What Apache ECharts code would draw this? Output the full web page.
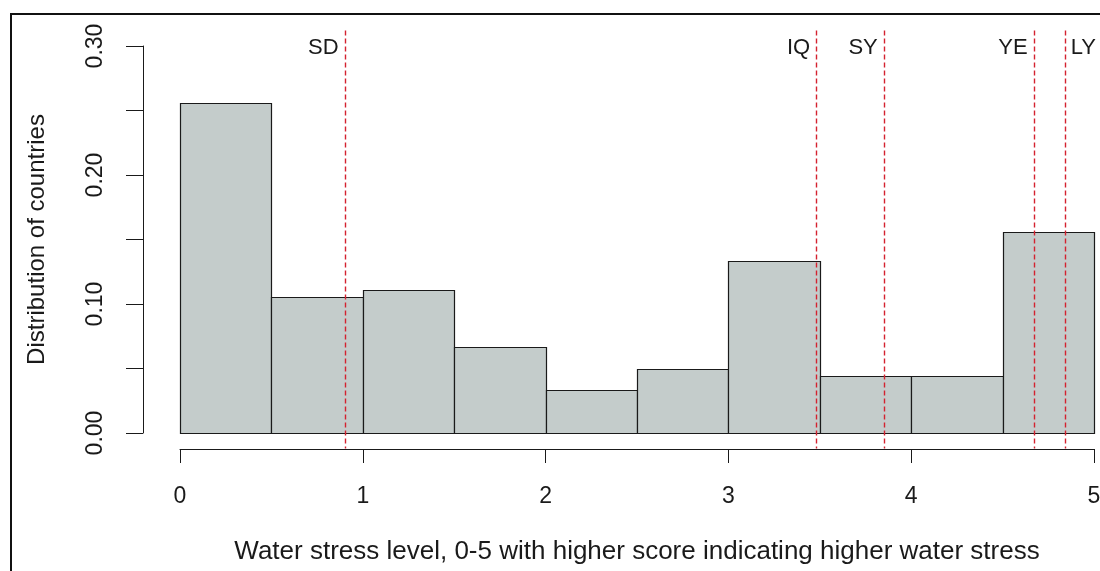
<!DOCTYPE html>
<html>
<head>
<meta charset="utf-8">
<script src="https://cdn.jsdelivr.net/npm/echarts@6/dist/echarts.min.js"></script>
<style>
html,body{margin:0;padding:0;background:#fff;}
#chart{width:1100px;height:571px;}
</style>
</head>
<body>
<div id="chart"></div>
<script>
// ---- data ----
const binStarts = [0, 0.5, 1, 1.5, 2, 2.5, 3, 3.5, 4, 4.5];
const binEnds   = [0.5, 1, 1.5, 2, 2.5, 3, 3.5, 4, 4.5, 5];
const shares    = [0.2556, 0.1056, 0.1111, 0.0667, 0.0333, 0.0500, 0.1333, 0.0444, 0.0444, 0.1556];
const countryCodes  = ['SD', 'IQ', 'SY', 'YE', 'LY'];
const countryScores = [0.90, 3.48, 3.85, 4.67, 4.84];
const labelSides    = ['left', 'left', 'left', 'left', 'right'];
const yLabelValues  = [0, 0.10, 0.20, 0.30];
const xTitle = 'Water stress level, 0-5 with higher score indicating higher water stress';
const yTitle = 'Distribution of countries';

const X_MIN = 0, X_MAX = 5, Y_MIN = 0, Y_MAX = 0.30;
const Y_PAD = (Y_MAX - Y_MIN) * 0.04;  // R plot-region extension

const FONT = '"Liberation Sans", Arial, sans-serif';
const INK = '#1a1a1a';

const barData = binStarts.map((s, i) => [s, binEnds[i], shares[i]]);
const lineData = countryScores.map((x) => [x]);
const labelData = countryScores.map((x, i) => [x, Y_MAX, countryCodes[i], labelSides[i]]);

const chart = echarts.init(document.getElementById('chart'));
const crisp = (v) => Math.round(v) + 0.5;

chart.setOption({
  backgroundColor: '#ffffff',
  animation: false,
  grid: { left: 180, right: 6, top: 46, bottom: 138, containLabel: false, outerBoundsMode: 'none' },
  xAxis: {
    type: 'value', min: X_MIN, max: X_MAX, interval: 1,
    offset: 16,
    axisLine: { show: true, onZero: false, lineStyle: { color: INK, width: 1 } },
    axisTick: { show: true, inside: false, length: 14, lineStyle: { color: INK, width: 1 } },
    axisLabel: { show: true, margin: 36, fontSize: 23, fontFamily: FONT, color: INK },
    splitLine: { show: false },
    name: xTitle, nameLocation: 'middle', nameGap: 90,
    nameTextStyle: { fontSize: 26, fontFamily: FONT, color: INK }
  },
  yAxis: {
    type: 'value', min: Y_MIN, max: Y_MAX, interval: 0.05,
    offset: 37,
    axisLine: { show: true, onZero: false, lineStyle: { color: INK, width: 1 } },
    axisTick: { show: true, inside: false, length: 17, lineStyle: { color: INK, width: 1 } },
    axisLabel: {
      show: true, rotate: 90, margin: 36, fontSize: 23, fontFamily: FONT, color: INK,
      formatter: (v) => yLabelValues.some((t) => Math.abs(t - v) < 1e-9) ? v.toFixed(2) : ''
    },
    splitLine: { show: false },
    name: yTitle, nameLocation: 'middle', nameGap: 94, nameRotate: 90,
    nameTextStyle: { fontSize: 24, fontFamily: FONT, color: INK }
  },
  graphic: [{
    type: 'rect', silent: true, z: 100,
    shape: { x: 11, y: 14, width: 1300, height: 800 },
    style: { fill: 'none', stroke: '#111', lineWidth: 2 }
  }],
  series: [
    {
      type: 'custom', name: 'hist', data: barData, encode: { x: [0, 1], y: 2 },
      renderItem: (params, api) => {
        const p0 = api.coord([api.value(0), api.value(2)]);
        const p1 = api.coord([api.value(1), 0]);
        const x0 = crisp(p0[0]), x1 = crisp(p1[0]), y0 = crisp(p0[1]), y1 = crisp(p1[1]);
        return {
          type: 'rect',
          shape: { x: x0, y: y0, width: x1 - x0, height: y1 - y0 },
          style: { fill: '#c4cccb', stroke: INK, lineWidth: 1.2 }
        };
      },
      z: 2
    },
    {
      type: 'custom', name: 'countries', data: lineData, encode: { x: 0 }, clip: false,
      renderItem: (params, api) => {
        const top = api.coord([api.value(0), Y_MAX + Y_PAD]);
        const bot = api.coord([api.value(0), Y_MIN - Y_PAD]);
        const x = crisp(top[0]);
        return {
          type: 'line',
          shape: { x1: x, y1: top[1], x2: x, y2: bot[1] },
          style: { stroke: '#d42230', lineWidth: 1.4, lineDash: [5, 3] }
        };
      },
      z: 3
    },
    {
      type: 'custom', name: 'codes', data: labelData, encode: { x: 0, y: 1 }, clip: false,
      renderItem: (params, api) => {
        const p = api.coord([api.value(0), api.value(1)]);
        const side = labelData[params.dataIndex][3];
        const text = labelData[params.dataIndex][2];
        return {
          type: 'text',
          x: side === 'left' ? p[0] - 6 : p[0] + 6,
          y: p[1] + 2,
          style: {
            text: text, fill: INK, font: '22px ' + FONT,
            textAlign: side === 'left' ? 'right' : 'left', textVerticalAlign: 'middle'
          }
        };
      },
      z: 4
    }
  ]
});
</script>
</body>
</html>
